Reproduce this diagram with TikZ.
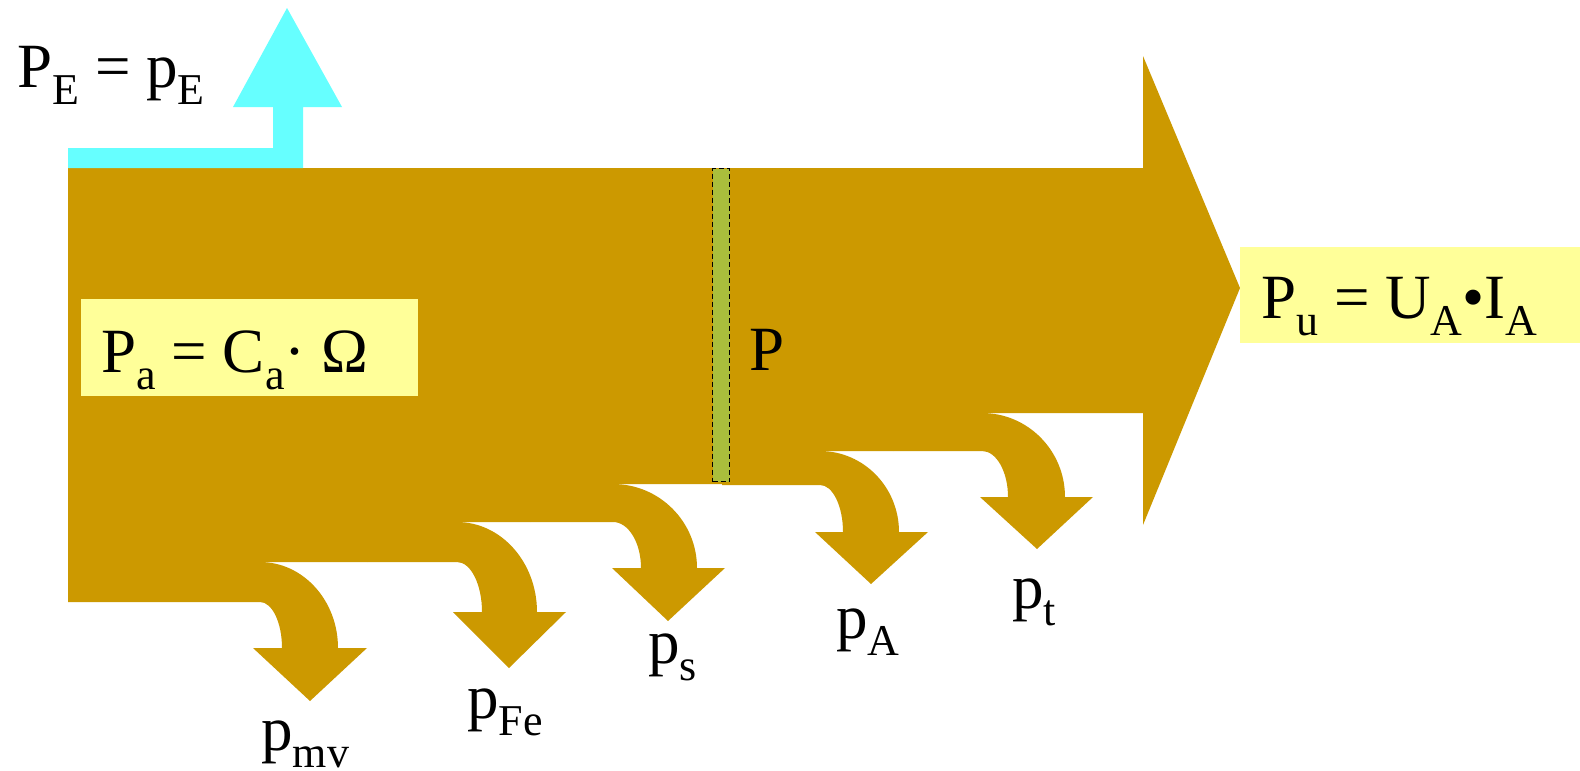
\documentclass[tikz,border=0pt]{standalone}
\usepackage{fontspec}
\setmainfont{Liberation Serif}
\definecolor{ochre}{RGB}{204,153,0}
\definecolor{skycyan}{RGB}{102,255,255}
\definecolor{paleyellow}{RGB}{255,255,153}
\definecolor{olivegreen}{RGB}{170,190,60}
\newcommand\sbs[1]{\raisebox{-8.5pt}{\fontsize{22pt}{22pt}\selectfont #1}}
\newcommand\bigtxt{\fontsize{31.5pt}{31.5pt}\selectfont}
\tikzset{
  lbl/.style={anchor=base west, inner sep=0pt, font=\bigtxt},
  ybox/.style={fill=paleyellow, draw=none, inner sep=0pt, anchor=north west},
}
\begin{document}
\begin{tikzpicture}[x=0.5pt,y=-0.5pt]
\fill[white] (0,0) rectangle (1580,771);
\useasboundingbox (0,0) rectangle (1580,771);
% loss arrows
\foreach \sa/\ta/\ba/\ca/\ia/\oa/\ha/\la/\ra/\pa/\qa in {
  68/562/602/260/282/338/648/253/367/310/701,
  367/522/562/457/482/537/612/453/566/509/668,
  530/484/522/613/641/697/568/612/725/668/621,
  722/451/485/820/843/899/532/815/928/871/584,
  893/413/451/982/1008/1065/497/980/1093/1037/549}
{
  \fill[ochre] (\sa,\ta) -- (\ca,\ta)
    .. controls ({\ca+0.5523*(\oa-\ca)},\ta) and (\oa,{\ha-0.5523*(\ha-\ta)}) .. (\oa,\ha)
    -- (\ra,\ha) -- (\pa,\qa) -- (\la,\ha) -- (\ia,\ha)
    .. controls (\ia,{\ha-0.5523*(\ha-\ba)}) and ({\ca+0.5523*(\ia-\ca)},\ba) .. (\ca,\ba)
    -- (\sa,\ba) -- cycle;
}
% main body
\fill[ochre] (68,168) -- (1143,168) -- (1143,56) -- (1240,288) -- (1143,525)
  -- (1143,413) -- (893,413) -- (893,451) -- (722,451) -- (722,484)
  -- (530,484) -- (530,522) -- (367,522) -- (367,562) -- (68,562) -- cycle;
% excitation arrow
\fill[skycyan] (68,148) -- (273,148) -- (273,107) -- (233,107) -- (287,8)
  -- (342,107) -- (303,107) -- (303,168) -- (68,168) -- cycle;
% air-gap section
\node[fill=olivegreen, draw=black, line width=0.7pt, dash pattern=on 2.5pt off 1.5pt,
  inner sep=0pt, minimum width=8.5pt, minimum height=156.5pt, anchor=north west]
  (gap) at (712,168) {};
% yellow boxes
\node[ybox, minimum width=168.5pt, minimum height=48.5pt] (pabox) at (81,299) {};
\node[ybox, minimum width=170pt, minimum height=48pt] (pubox) at (1240,247) {};
% labels
\node[lbl] (pe) at (17,87) {P\sbs{E} = p\sbs{E}};
\node[lbl] (pa) at (101,372) {P\sbs{a} = C\sbs{a}· Ω};
\node[lbl] (pu) at (1261,318) {P\sbs{u} = U\sbs{A}•I\sbs{A}};
\node[lbl] (p) at (749,370) {P};
\node[lbl] (pmv) at (261,750) {p\sbs{mv}};
\node[lbl] (pfe) at (467,718) {p\sbs{Fe}};
\node[lbl] (ps) at (648,663) {p\sbs{s}};
\node[lbl] (pA) at (836,638) {p\sbs{A}};
\node[lbl] (pt) at (1012,608) {p\sbs{t}};
\end{tikzpicture}
\end{document}
